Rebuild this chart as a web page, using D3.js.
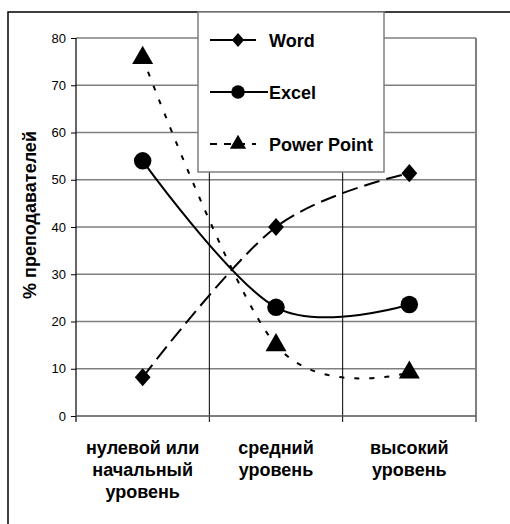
<!DOCTYPE html>
<html>
<head>
<meta charset="utf-8">
<script src="https://cdn.jsdelivr.net/npm/d3@7"></script>
<style>
  body { margin: 0; background: #fff; }
  text { font-family: "Liberation Sans", Arial, sans-serif; }
</style>
</head>
<body>
<svg id="chart" width="510" height="524"></svg>
<script>
// categories and series
const categories = [
  ['нулевой или', 'начальный', 'уровень'],
  ['средний', 'уровень'],
  ['высокий', 'уровень']
];
const wordValues = [8.2, 40, 51.4];
const excelValues = [54, 23, 23.6];
const pptValues = [75.8, 15, 9.2];
const yTicks = [0, 10, 20, 30, 40, 50, 60, 70, 80];
const seriesNames = ['Word', 'Excel', 'Power Point'];

const svg = d3.select('#chart');
const plot = { x0: 76, x1: 476, y0: 38, y1: 416 };

// outer frame (runs off the right and bottom edges)
svg.append('rect')
    .attr('x', 8).attr('y', 12)
    .attr('width', 520).attr('height', 530)
    .attr('fill', 'none')
    .attr('stroke', '#000')
    .attr('stroke-width', 1.5);

let x = d3.scaleBand()
    .domain(d3.range(categories.length))
    .range([plot.x0, plot.x1]);

let y = d3.scaleLinear()
    .domain([0, 80])
    .range([plot.y1, plot.y0]);

// horizontal gridlines
svg.append('g')
    .selectAll('line')
    .data(yTicks.slice(1))
    .join('line')
    .attr('x1', plot.x0).attr('x2', plot.x1)
    .attr('y1', d => y(d)).attr('y2', d => y(d))
    .attr('stroke', '#7f7f7f')
    .attr('stroke-width', 1.5);

// vertical lines at category boundaries
svg.append('g')
    .selectAll('line')
    .data(d3.range(1, categories.length))
    .join('line')
    .attr('x1', d => x(d)).attr('x2', d => x(d))
    .attr('y1', plot.y0).attr('y2', plot.y1 + 6)
    .attr('stroke', '#000')
    .attr('stroke-width', 1);

// right border of plot area
svg.append('line')
    .attr('x1', plot.x1).attr('x2', plot.x1)
    .attr('y1', plot.y0).attr('y2', plot.y1 + 6)
    .attr('stroke', '#7f7f7f')
    .attr('stroke-width', 2);

// y axis
const yAxis = svg.append('g')
    .attr('transform', `translate(${plot.x0},0)`)
    .call(d3.axisLeft(y).tickValues(yTicks).tickSize(5).tickPadding(5));
yAxis.select('.domain').remove();
yAxis.selectAll('.tick line').attr('stroke', '#000');
yAxis.selectAll('.tick text')
    .attr('font-size', 13)
    .attr('fill', '#000')
    .style('font-family', '"Liberation Sans", Arial, sans-serif');
svg.append('line')
    .attr('x1', plot.x0).attr('x2', plot.x0)
    .attr('y1', plot.y0).attr('y2', plot.y1 + 6)
    .attr('stroke', '#000').attr('stroke-width', 1.2);

// x axis line
svg.append('line')
    .attr('x1', plot.x0).attr('x2', plot.x1)
    .attr('y1', plot.y1).attr('y2', plot.y1)
    .attr('stroke', '#555').attr('stroke-width', 1.5);

// y axis title
svg.append('text')
    .attr('transform', 'translate(36,215) rotate(-90)')
    .attr('text-anchor', 'middle')
    .attr('font-size', 18)
    .attr('font-weight', 'bold')
    .text('% преподавателей');

// category labels
svg.append('g')
    .selectAll('text')
    .data(categories)
    .join('text')
    .attr('text-anchor', 'middle')
    .attr('font-size', 18)
    .attr('font-weight', 'bold')
    .selectAll('tspan')
    .data((d, i) => d.map(s => ({ s, i })))
    .join('tspan')
    .attr('x', d => x(d.i) + x.bandwidth() / 2)
    .attr('y', (d, j) => 454 + j * 22)
    .text(d => d.s);

const cx = i => x(i) + x.bandwidth() / 2;
const line = d3.line()
    .x((d, i) => cx(i))
    .y(d => y(d))
    .curve(d3.curveCardinal.tension(0));

// diamond = square turned by 45 degrees, a little taller than wide
const series = [
  { name: seriesNames[0], values: wordValues, dash: '16,7', marker: d3.symbolSquare, size: 125, tf: 'scale(1,1.15) rotate(45)' },
  { name: seriesNames[1], values: excelValues, dash: null, marker: d3.symbolCircle, size: 240, tf: '' },
  { name: seriesNames[2], values: pptValues, dash: '5,10', marker: d3.symbolTriangle, size: 190, tf: '' }
];

series.forEach(s => {
    svg.append('path')
        .datum(s.values)
        .attr('d', line)
        .attr('fill', 'none')
        .attr('stroke', '#000')
        .attr('stroke-width', 2)
        .attr('stroke-dasharray', s.dash);

    svg.append('g')
        .selectAll('path')
        .data(s.values)
        .join('path')
        .attr('transform', (d, i) => `translate(${cx(i)},${y(d)}) ${s.tf}`)
        .attr('d', d3.symbol().type(s.marker).size(s.size))
        .attr('fill', '#000');
});

// legend
const legend = svg.append('g');
legend.append('rect')
    .attr('x', 198).attr('y', 12)
    .attr('width', 186).attr('height', 160)
    .attr('fill', '#fff')
    .attr('stroke', '#7f7f7f')
    .attr('stroke-width', 1.5);

const legendRows = legend.selectAll('g')
    .data(series)
    .join('g')
    .attr('transform', (d, i) => `translate(0,${40 + i * 52})`);

legendRows.append('line')
    .attr('x1', 210).attr('x2', d => d.name === 'Excel' ? 268 : 256)
    .attr('stroke', '#000')
    .attr('stroke-width', 2)
    .attr('stroke-dasharray', d => d.name === 'Power Point' ? '7,7' : null);

legendRows.append('path')
    .attr('transform', d => `translate(238,0) ${d.tf}`)
    .attr('d', d => d3.symbol().type(d.marker).size(d.size * 0.6)())
    .attr('fill', '#000');

legendRows.append('text')
    .attr('x', 269)
    .attr('y', 6.5)
    .attr('font-size', 18)
    .attr('font-weight', 'bold')
    .text(d => d.name);
</script>
</body>
</html>
